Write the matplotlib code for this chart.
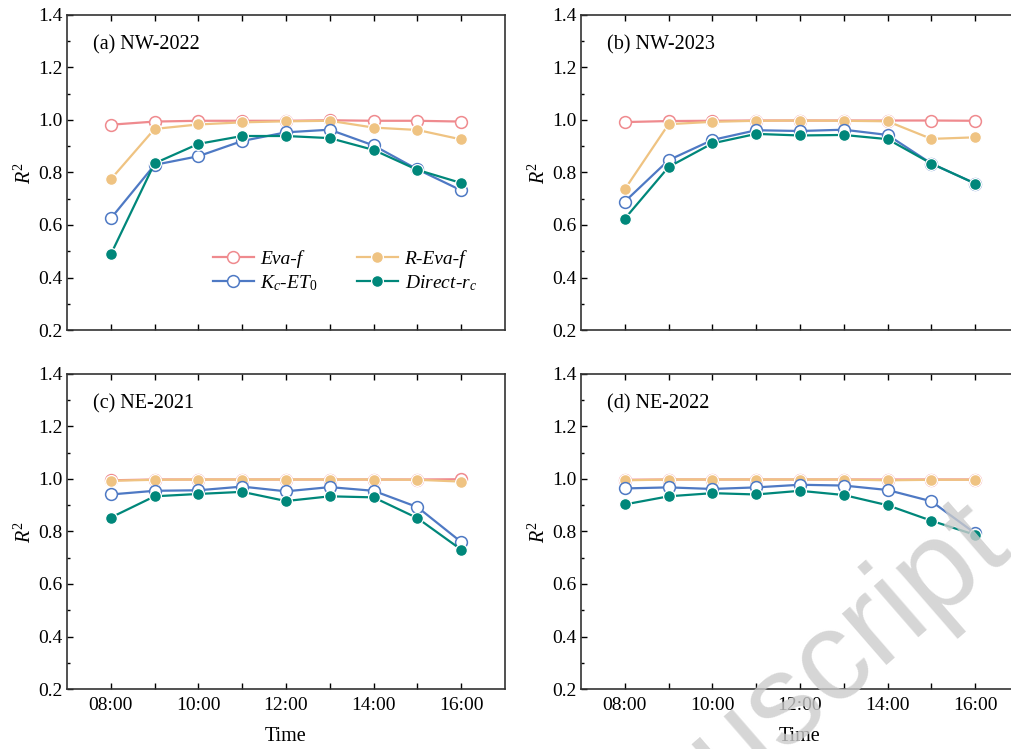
import matplotlib

matplotlib.use("Agg")
import matplotlib.pyplot as plt
from matplotlib.ticker import MultipleLocator, FixedLocator

plt.rcParams["font.family"] = ["Liberation Serif", "DejaVu Serif"]
plt.rcParams["mathtext.fontset"] = "custom"
plt.rcParams["mathtext.rm"] = "Liberation Serif"
plt.rcParams["mathtext.it"] = "Liberation Serif:italic"

# horas do dia (08:00 - 16:00)
HORAS = [8, 9, 10, 11, 12, 13, 14, 15, 16]
ROTULOS_HORAS = ["08:00", "", "10:00", "", "12:00", "", "14:00", "", "16:00"]

PAINEIS = ["(a) NW-2022", "(b) NW-2023", "(c) NE-2021", "(d) NE-2022"]

# R2 por modelo, um array por painel
eva_f = [
    [0.982, 0.994, 0.997, 0.997, 0.997, 0.999, 0.997, 0.997, 0.994],
    [0.992, 0.996, 0.997, 0.998, 0.998, 0.998, 0.998, 0.998, 0.997],
    [0.995, 0.998, 0.998, 0.998, 0.998, 0.998, 0.998, 0.998, 0.999],
    [0.997, 0.998, 0.998, 0.998, 0.998, 0.998, 0.998, 0.998, 0.998],
]
r_eva_f = [
    [0.774, 0.966, 0.983, 0.991, 0.995, 0.997, 0.971, 0.962, 0.926],
    [0.736, 0.984, 0.993, 0.997, 0.998, 0.997, 0.995, 0.928, 0.934],
    [0.993, 0.997, 0.998, 0.998, 0.998, 0.998, 0.998, 0.997, 0.990],
    [0.995, 0.998, 0.998, 0.998, 0.998, 0.998, 0.995, 0.997, 0.997],
]
kc_et0 = [
    [0.625, 0.829, 0.862, 0.920, 0.953, 0.963, 0.903, 0.812, 0.732],
    [0.689, 0.847, 0.924, 0.961, 0.958, 0.963, 0.943, 0.834, 0.758],
    [0.941, 0.955, 0.957, 0.971, 0.953, 0.969, 0.955, 0.893, 0.760],
    [0.964, 0.968, 0.962, 0.968, 0.978, 0.975, 0.958, 0.915, 0.793],
]
direct_rc = [
    [0.488, 0.835, 0.909, 0.939, 0.939, 0.931, 0.886, 0.810, 0.760],
    [0.624, 0.821, 0.911, 0.947, 0.941, 0.943, 0.927, 0.834, 0.758],
    [0.853, 0.934, 0.943, 0.951, 0.916, 0.934, 0.930, 0.851, 0.731],
    [0.903, 0.934, 0.946, 0.941, 0.955, 0.939, 0.900, 0.841, 0.787],
]

COR_EVA = "#EF8A8E"
COR_REVA = "#EFC382"
COR_KC = "#4E79C4"
COR_DIRECT = "#00877A"

fig = plt.figure(figsize=(10.12, 7.49), dpi=100)

# posicoes dos eixos em fracao da figura
largura = 0.4328
altura = 0.4206
posicoes = [
    (0.0662, 0.5594),
    (0.5741, 0.5594),
    (0.0662, 0.0801),
    (0.5741, 0.0801),
]

for i, (x0, y0) in enumerate(posicoes):
    ax = fig.add_axes([x0, y0, largura, altura])
    estilo = dict(linewidth=1.6, markersize=8.5)
    l1, = ax.plot(HORAS, eva_f[i], color=COR_EVA, marker="o", markerfacecolor="white",
                  markeredgecolor=COR_EVA, markeredgewidth=1.1, label="Eva-f", **estilo)
    l2, = ax.plot(HORAS, r_eva_f[i], color=COR_REVA, marker="o", markerfacecolor=COR_REVA,
                  markeredgecolor="white", markeredgewidth=0.9, label="R-Eva-f", **estilo)
    l3, = ax.plot(HORAS, kc_et0[i], color=COR_KC, marker="o", markerfacecolor="white",
                  markeredgecolor=COR_KC, markeredgewidth=1.1, label=r"K$_c$-ET$_\mathit{0}$", **estilo)
    l4, = ax.plot(HORAS, direct_rc[i], color=COR_DIRECT, marker="o", markerfacecolor=COR_DIRECT,
                  markeredgecolor="white", markeredgewidth=0.9, label=r"Direct-r$_c$", **estilo)

    ax.set_xlim(7, 17)
    ax.set_ylim(0.2, 1.4)
    ax.xaxis.set_major_locator(FixedLocator(HORAS))
    if i >= 2:
        ax.set_xticklabels(ROTULOS_HORAS)
        ax.set_xlabel("Time", fontsize=14.5, labelpad=9)
    else:
        ax.set_xticklabels([])
    ax.yaxis.set_minor_locator(MultipleLocator(0.1))
    ax.set_yticks([0.2, 0.4, 0.6, 0.8, 1.0, 1.2, 1.4])
    ax.set_yticklabels(["0.2", "0.4", "0.6", "0.8", "1.0", "1.2", "1.4"])
    ax.set_ylabel(r"$R^2$", fontsize=14.5, labelpad=2)
    ax.tick_params(axis="both", which="major", direction="in", length=4, width=1,
                   labelsize=14, top=True, right=False, pad=3)
    ax.tick_params(axis="y", which="minor", direction="in", length=2.5, width=1, right=False)
    ax.tick_params(axis="x", pad=6)
    for lado in ax.spines.values():
        lado.set_linewidth(1.2)
        lado.set_color("#333333")

    ax.text(0.06, 0.905, PAINEIS[i], transform=ax.transAxes, fontsize=14.5,
            ha="left", va="center")

    if i == 0:
        ax.legend(
            handles=[l1, l3, l2, l4],
            ncol=2,
            loc="upper left",
            bbox_to_anchor=(0.333, 0.253),
            frameon=False,
            prop={"style": "italic", "size": 14},
            handlelength=2.1,
            handletextpad=0.35,
            columnspacing=2.0,
            labelspacing=0.25,
            borderpad=0,
            borderaxespad=0,
        )

# marca d'agua
fig.text(1.0, 0.27, "Manuscript", rotation=41, rotation_mode="anchor",
         ha="right", va="baseline", fontsize=92,
         color="#cccccc", alpha=0.8, family="Liberation Sans", zorder=10)

fig.savefig("out.png", dpi=100)
plt.close(fig)
